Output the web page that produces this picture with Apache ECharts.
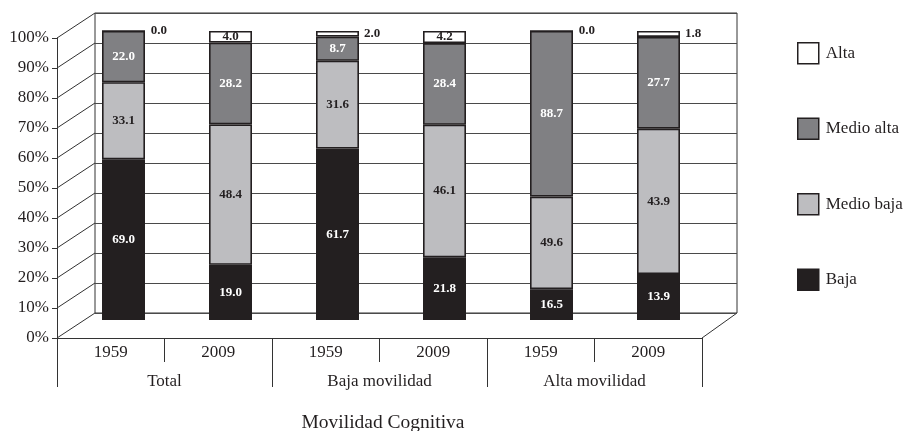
<!DOCTYPE html>
<html>
<head>
<meta charset="utf-8">
<script src="https://cdn.jsdelivr.net/npm/echarts@6/dist/echarts.min.js"></script>
<style>
  html, body { margin: 0; padding: 0; background: #fff; }
  #chart { width: 908px; height: 431px; }
</style>
</head>
<body>
<div id="chart"></div>
<script>
// Categories and group labels
var years = ['1959', '2009', '1959', '2009', '1959', '2009'];
var groups = ['Total', 'Baja movilidad', 'Alta movilidad'];
var seriesNames = ['Baja', 'Medio baja', 'Medio alta', 'Alta'];
var percentTicks = [0, 10, 20, 30, 40, 50, 60, 70, 80, 90, 100];

// Values printed on each segment
var baja      = [69.0, 19.0, 61.7, 21.8, 16.5, 13.9];
var medioBaja = [33.1, 48.4, 31.6, 46.1, 49.6, 43.9];
var medioAlta = [22.0, 28.2,  8.7, 28.4, 88.7, 27.7];
var alta      = [ 0.0,  4.0,  2.0,  4.2,  0.0,  1.8];

var FONT = "'Liberation Serif', 'Times New Roman', serif";
var INK = '#231f20';

// Each column is stacked to 100%: shares are computed from the printed values
var raw = [baja, medioBaja, medioAlta, alta];
var totals = years.map(function (_, i) {
  return raw.reduce(function (s, arr) { return s + arr[i]; }, 0);
});
function shares(arr) {
  return arr.map(function (v, i) { return { value: v / totals[i] * 100, raw: v }; });
}

// Pseudo-3D box geometry (front face, back wall, depth offset)
var front = { left: 57, right: 702, top: 38, bottom: 338 };
var depth = { dx: 38, dy: -25 };
var back = { left: front.left + depth.dx, right: 737, top: front.top + depth.dy, bottom: front.bottom + depth.dy };

var fills = [INK, '#bdbdc0', '#808083', '#ffffff'];
var labelColors = ['#ffffff', INK, '#ffffff', INK];

var series = raw.map(function (arr, k) {
  var data = shares(arr);
  if (k === 3) {
    data = data.map(function (d) {
      var inside = d.value > 3;
      d.label = { position: inside ? 'inside' : 'right', distance: 5 };
      return d;
    });
  }
  return {
    name: seriesNames[k],
    type: 'bar',
    stack: 'total',
    xAxisIndex: 3,
    yAxisIndex: 2,
    barWidth: 43,
    data: data,
    itemStyle: {
      color: fills[k],
      borderColor: INK,
      borderWidth: k === 0 ? 0 : 1.6
    },
    label: {
      show: true,
      position: 'inside',
      color: labelColors[k],
      fontFamily: FONT,
      fontWeight: 'bold',
      fontSize: 13,
      formatter: function (p) { return p.data.raw.toFixed(1); }
    }
  };
});

// Depth lines joining the front percent ticks to the back wall, plus the floor edge
var graphics = percentTicks.map(function (t) {
  var fy = front.bottom - (front.bottom - front.top) * t / 100;
  return {
    type: 'line',
    shape: { x1: front.left, y1: fy, x2: front.left + depth.dx, y2: fy + depth.dy },
    style: { stroke: '#333', lineWidth: 1 },
    silent: true
  };
});
graphics.push({
  type: 'line',
  shape: { x1: front.right, y1: front.bottom, x2: back.right, y2: back.bottom },
  style: { stroke: '#333', lineWidth: 1 },
  silent: true
});
graphics.push({
  type: 'text',
  x: 383,
  y: 423,
  style: {
    text: 'Movilidad Cognitiva',
    font: '19.5px ' + FONT,
    fill: INK,
    textAlign: 'center',
    textVerticalAlign: 'middle'
  },
  silent: true
});

var chart = echarts.init(document.getElementById('chart'), null, { renderer: 'canvas' });
chart.setOption({
  animation: false,
  backgroundColor: '#ffffff',
  grid: [
    { // back wall
      left: back.left, right: 908 - back.right, top: back.top, bottom: 431 - back.bottom,
      show: true, borderColor: '#333', borderWidth: 1, backgroundColor: 'transparent'
    },
    { // front face (axes and labels)
      left: front.left, right: 908 - front.right, top: front.top, bottom: 431 - front.bottom
    },
    { // bars
      left: 70, right: 196, top: 31, bottom: 111
    }
  ],
  legend: {
    orient: 'vertical',
    left: 792,
    top: 37,
    itemWidth: 21,
    itemHeight: 21,
    itemGap: 53,
    icon: 'rect',
    data: ['Alta', 'Medio alta', 'Medio baja', 'Baja'],
    itemStyle: { borderColor: INK, borderWidth: 1.5 },
    textStyle: { fontFamily: FONT, fontSize: 17, color: INK, padding: [0, 0, 0, 2] }
  },
  xAxis: [
    { gridIndex: 0, type: 'category', data: years, show: false },
    {
      gridIndex: 1, type: 'category', data: years, position: 'bottom',
      axisLine: { show: true, lineStyle: { color: '#333', width: 1 } },
      axisTick: { show: true, length: 24, interval: 0, lineStyle: { color: '#333' } },
      axisLabel: { margin: 6, fontFamily: FONT, fontSize: 17, color: INK, interval: 0 }
    },
    {
      gridIndex: 1, type: 'category', data: groups, position: 'bottom',
      axisLine: { show: false },
      axisTick: { show: true, length: 49, interval: 0, lineStyle: { color: '#333' } },
      axisLabel: { margin: 35, fontFamily: FONT, fontSize: 17, color: INK, interval: 0 }
    },
    { gridIndex: 2, type: 'category', data: years, show: false }
  ],
  yAxis: [
    {
      gridIndex: 0, type: 'value', min: 0, max: 100, interval: 10,
      axisLine: { show: false }, axisTick: { show: false }, axisLabel: { show: false },
      splitLine: { show: true, lineStyle: { color: '#4a4a4a', width: 1.2 } }
    },
    {
      gridIndex: 1, type: 'value', min: 0, max: 100, interval: 10,
      axisLine: { show: true, lineStyle: { color: '#333', width: 1 } },
      axisTick: { show: true, length: 5, lineStyle: { color: '#333' } },
      axisLabel: { formatter: '{value}%', margin: 8, fontFamily: FONT, fontSize: 17, color: INK },
      splitLine: { show: false }
    },
    { gridIndex: 2, type: 'value', min: 0, max: 100, show: false, splitLine: { show: false } }
  ],
  series: series,
  graphic: graphics
});
</script>
</body>
</html>
